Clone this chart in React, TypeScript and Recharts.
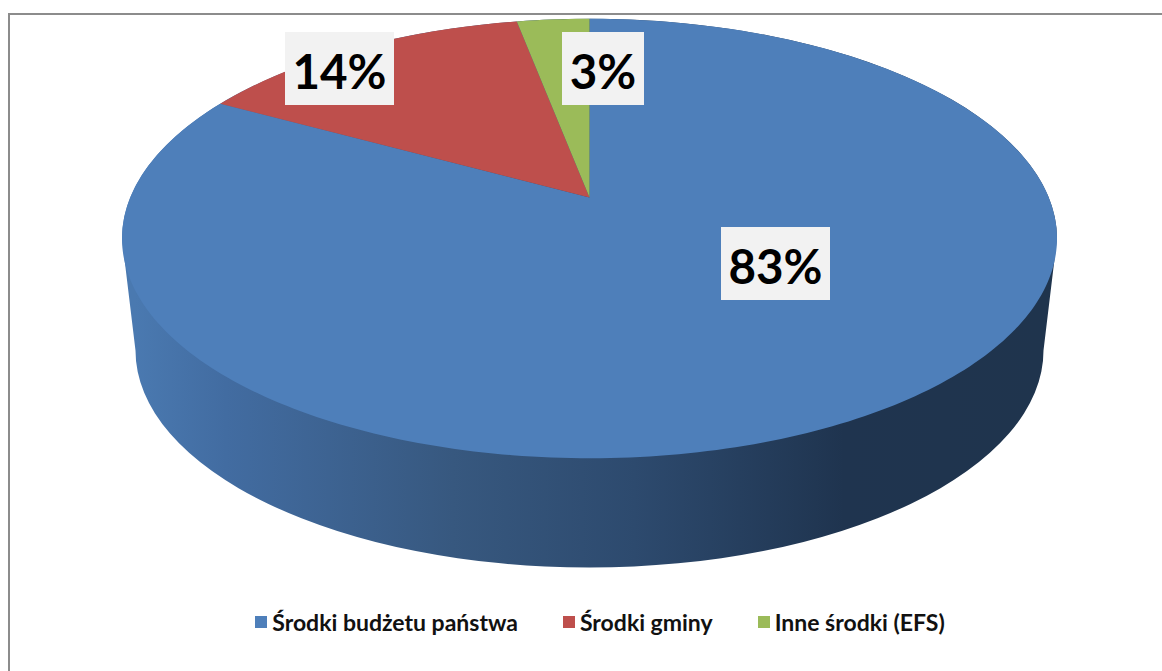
import React from "react";
import { PieChart, Pie, Cell, Legend } from "recharts";

const categories = ["Środki budżetu państwa", "Środki gminy", "Inne środki (EFS)"];
const shares = [83, 14, 3];
const colors = ["#4E7FBA", "#BE4F4C", "#9BBB59"];

const tableRows = categories.map((name, i) => ({ name, value: shares[i] }));

// layout of the tilted disc
const CX = 589.5;
const CY = 238.5;
const RX = 467.5;
const SQUASH = 0.47;
const TILT = 0.187; // how far the hub sits above the ellipse centre, as a fraction of ry
const WALL_DROP = 112;
const WALL_RX = 454;
const WALL_RY = 217;
const LABEL_OFFSETS = [
  [186, 25],
  [-250, -170],
  [13.5, -170],
];

function project(cx: number, cy: number, rx: number, deg: number, f = 1): [number, number] {
  const ry = rx * SQUASH;
  const a = (deg * Math.PI) / 180;
  const u = f * Math.cos(a);
  const v = f * Math.sin(a);
  const w = 1 + TILT * v;
  return [cx + (rx * u * Math.sqrt(1 - TILT * TILT)) / w, cy - (ry * (v + TILT)) / w];
}

function TiltedSector(props: any) {
  const { cx, cy, outerRadius, startAngle, endAngle, fill, index } = props;
  const steps = Math.max(8, Math.ceil(Math.abs(endAngle - startAngle)));
  const hub = project(cx, cy, outerRadius, 0, 0);
  let d = `M${hub[0]},${hub[1]}`;
  for (let i = 0; i <= steps; i++) {
    const p = project(cx, cy, outerRadius, startAngle + ((endAngle - startAngle) * i) / steps);
    d += `L${p[0].toFixed(2)},${p[1].toFixed(2)}`;
  }
  d += "Z";
  const ry = outerRadius * SQUASH;
  const wallY = cy + WALL_DROP;
  const isFront = index === 0;
  return (
    <g>
      {isFront && (
        <>
          <defs>
            <linearGradient id="wall" gradientUnits="userSpaceOnUse" x1={cx - WALL_RX} x2={cx + WALL_RX} y1="0" y2="0">
              <stop offset="0" stopColor="#4A79B0" />
              <stop offset="0.1" stopColor="#426CA1" />
              <stop offset="0.35" stopColor="#37587F" />
              <stop offset="0.55" stopColor="#2D4A6E" />
              <stop offset="0.78" stopColor="#1F344F" />
              <stop offset="1" stopColor="#1F344D" />
            </linearGradient>
          </defs>
          <path
            d={`M${cx - outerRadius},${cy} L${cx - WALL_RX},${wallY} A${WALL_RX},${WALL_RY} 0 0 0 ${cx + WALL_RX},${wallY} L${cx + outerRadius},${cy} A${outerRadius},${ry} 0 0 0 ${cx - outerRadius},${cy} Z`}
            fill="url(#wall)"
          />
        </>
      )}
      <path d={d} fill={fill} />
    </g>
  );
}

function renderLabel(props: any) {
  const { cx, cy, index, value } = props;
  const text = `${value}%`;
  const [dx, dy] = LABEL_OFFSETS[index];
  const w = 28 + text.length * 27;
  const h = 73;
  const x = cx + dx;
  const y = cy + dy;
  return (
    <g key={index}>
      <rect x={x - w / 2} y={y - h / 2} width={w} height={h} fill="#F2F2F2" />
      <text
        x={x}
        y={y + 2}
        textAnchor="middle"
        dominantBaseline="central"
        fontFamily="Lato"
        fontWeight={700}
        fontSize={47.5}
        fill="#000"
      >
        {text}
      </text>
    </g>
  );
}

function LegendRow({ payload }: any) {
  return (
    <div style={{ display: "flex", justifyContent: "center", alignItems: "center", gap: 45, fontFamily: "Lato", fontWeight: 700, fontSize: 23, color: "#111" }}>
      {(payload || []).map((e: any) => (
        <div key={e.value} style={{ display: "flex", alignItems: "center", gap: 5 }}>
          <span style={{ display: "inline-block", width: 12, height: 12, background: e.color }} />
          <span>{e.value}</span>
        </div>
      ))}
    </div>
  );
}

export default function App() {
  return (
    <div style={{ position: "absolute", left: 0, top: 0, width: 1162, height: 671, background: "#fff", overflow: "hidden" }}>
      <div style={{ position: "absolute", left: 8, top: 13, width: 1200, height: 700, border: "2px solid #8C8C8C", boxSizing: "border-box" }} />
      <div style={{ position: "absolute", left: 0, top: 0 }}>
        <PieChart width={1162} height={671} margin={{ top: 0, right: 0, bottom: 0, left: 0 }}>
          <Pie
            data={tableRows}
            dataKey="value"
            nameKey="name"
            cx={CX}
            cy={CY}
            innerRadius={0}
            outerRadius={RX}
            startAngle={90}
            endAngle={-270}
            stroke="none"
            shape={TiltedSector}
            label={renderLabel}
            labelLine={false}
            isAnimationActive={false}
          >
            {tableRows.map((r, i) => (
              <Cell key={r.name} fill={colors[i]} />
            ))}
          </Pie>
          <Legend itemSorter={null} content={LegendRow} wrapperStyle={{ position: "absolute", top: 608, left: 0, width: 1200, height: 30 }} />
        </PieChart>
      </div>
    </div>
  );
}
